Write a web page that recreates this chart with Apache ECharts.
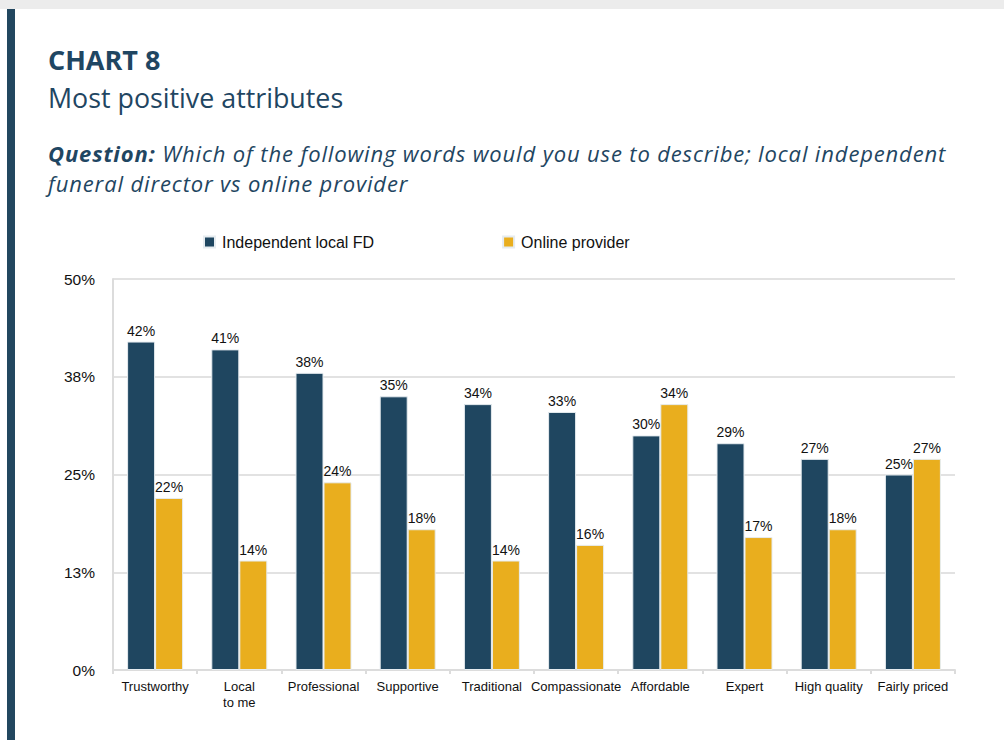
<!DOCTYPE html>
<html>
<head>
<meta charset="utf-8">
<script src="https://cdn.jsdelivr.net/npm/echarts@6/dist/echarts.min.js"></script>
<style>
  html, body { margin: 0; padding: 0; background: #ffffff; }
  #page { position: relative; width: 1004px; height: 740px; overflow: hidden; }
  #band { position: absolute; left: 0; top: 0; width: 1004px; height: 9px; background: #ececec; }
  #rule { position: absolute; left: 7px; top: 9px; width: 8px; height: 731px; background: #22475f; }
  #chart { position: absolute; left: 0; top: 0; width: 1004px; height: 740px; }
  .hd { position: absolute; left: 48px; color: #1f4662; font-family: "Open Sans", sans-serif; white-space: nowrap; }
  #t1 { top: 41px; font-size: 27px; font-weight: 700; }
  #t2 { top: 79px; font-size: 26.8px; font-weight: 400; }
  .q { font-size: 22px; font-style: italic; line-height: 30px; height: 30px; letter-spacing: 0.86px; }
  #q1 { top: 137.5px; }
  #q2 { top: 167.5px; }
  .q b { font-weight: 700; }
</style>
</head>
<body>
<div id="page">
  <div id="band"></div>
  <div id="rule"></div>
  <div id="chart"></div>
  <div class="hd" id="t1">CHART 8</div>
  <div class="hd" id="t2">Most positive attributes</div>
  <div class="hd q" id="q1"><b>Question:</b> Which of the following words would you use to describe; local independent</div>
  <div class="hd q" id="q2">funeral director vs online provider</div>
</div>
<script>
// Attributes and share of respondents (%) choosing each one
const categories = ['Trustworthy', 'Local\nto me', 'Professional', 'Supportive', 'Traditional',
                    'Compassionate', 'Affordable', 'Expert', 'High quality', 'Fairly priced'];
const seriesNames = ['Independent local FD', 'Online provider'];
const localFD = [42, 41, 38, 35, 34, 33, 30, 29, 27, 25];
const onlineProvider = [22, 14, 24, 18, 14, 16, 34, 17, 18, 27];
const yTicks = [0, 12.5, 25, 37.5, 50];

const NAVY = '#1f4660';
const GOLD = '#e9ae1e';
const FONT = '"Liberation Sans", Arial, sans-serif';

const chart = echarts.init(document.getElementById('chart'), null, { renderer: 'svg' });

function barSeries(name, data, color) {
  return {
    name: name,
    type: 'bar',
    data: data,
    barWidth: 28,
    barGap: '0%',
    itemStyle: { color: color, borderColor: '#e6ecf0', borderWidth: 1 },
    label: {
      show: true,
      position: 'top',
      distance: 4,
      color: '#111111',
      fontFamily: FONT,
      fontSize: 14,
      formatter: p => p.value + '%'
    }
  };
}

chart.setOption({
  animation: false,
  textStyle: { fontFamily: FONT },
  legend: {
    data: seriesNames,
    left: 198,
    top: 229,
    itemWidth: 11,
    itemHeight: 11,
    itemGap: 128,
    icon: 'rect',
    textStyle: { fontFamily: FONT, fontSize: 16, color: '#111111', padding: [0, 0, 0, 2] }
  },
  grid: { left: 113, right: 49, top: 279, bottom: 70, containLabel: false },
  xAxis: {
    type: 'category',
    data: categories,
    axisLine: { show: true, lineStyle: { color: '#dcdcdc', width: 2 } },
    axisTick: { show: true, length: 4, lineStyle: { color: '#dcdcdc', width: 2 } },
    axisLabel: { color: '#111111', fontFamily: FONT, fontSize: 13, margin: 8, lineHeight: 16, interval: 0 }
  },
  yAxis: {
    type: 'value',
    min: yTicks[0],
    max: yTicks[yTicks.length - 1],
    interval: yTicks[1] - yTicks[0],
    axisLine: { show: true, lineStyle: { color: '#dcdcdc', width: 2 } },
    axisTick: { show: false },
    splitLine: { show: true, lineStyle: { color: '#e2e2e2', width: 2 } },
    axisLabel: {
      color: '#111111', fontFamily: FONT, fontSize: 15.5, margin: 18,
      formatter: v => Math.round(v) + '%'
    }
  },
  series: [
    barSeries(seriesNames[0], localFD, NAVY),
    barSeries(seriesNames[1], onlineProvider, GOLD)
  ]
});
</script>
</body>
</html>
